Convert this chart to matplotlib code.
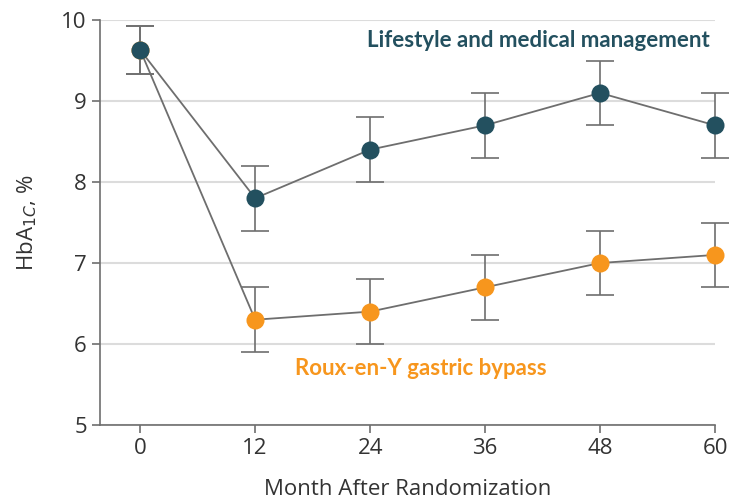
import matplotlib
matplotlib.use('Agg')
import matplotlib.pyplot as plt

# data
months = [0, 12, 24, 36, 48, 60]
lifestyle = [9.63, 7.8, 8.4, 8.7, 9.1, 8.7]
lifestyle_err = [0.3, 0.4, 0.4, 0.4, 0.4, 0.4]
bypass = [9.63, 6.3, 6.4, 6.7, 7.0, 7.1]
bypass_err = [0.3, 0.4, 0.4, 0.4, 0.4, 0.4]

teal = '#23505f'
orange = '#f7961d'
gray = '#6e6e6e'

plt.rcParams['font.family'] = ['Open Sans', 'DejaVu Sans']

fig = plt.figure(figsize=(7.32, 5.01), dpi=100)
ax = fig.add_axes([0.1366, 0.1517, 0.8402, 0.8083])

# bypass first so the shared baseline point shows teal
for vals, err, col in [(bypass, bypass_err, orange), (lifestyle, lifestyle_err, teal)]:
    ax.errorbar(months, vals, yerr=err, fmt='none', ecolor=gray, elinewidth=1.2,
                capsize=10, capthick=1.2, zorder=2, clip_on=False)
    ax.plot(months, vals, color=gray, lw=1.3, zorder=3, clip_on=False)
    ax.plot(months, vals, 'o', color=col, ms=13, mec='none', zorder=4, clip_on=False)

ax.set_xlim(-4.2, 60)
ax.set_ylim(5, 10)
ax.set_xticks(months)
ax.set_yticks([5, 6, 7, 8, 9, 10])
ax.yaxis.grid(True, color='#dcdcdc', lw=1.5)
ax.set_axisbelow(True)
for s in ['top', 'right']:
    ax.spines[s].set_visible(False)
for s in ['left', 'bottom']:
    ax.spines[s].set_color(gray)
    ax.spines[s].set_linewidth(1.2)
ax.tick_params(colors=gray, length=6, width=1.2, labelsize=16, labelcolor='#333333')

ax.set_xlabel('Month After Randomization', fontsize=16, color='#333333', labelpad=14)
ax.set_ylabel('HbA$_{1C}$, %', fontsize=16, color='#333333', labelpad=16)

ax.text(41.6, 9.75, 'Lifestyle and medical management', color=teal, fontsize=16,
        fontweight='bold', ha='center', va='center', family=['Lato', 'DejaVu Sans'])
ax.text(29.3, 5.70, 'Roux-en-Y gastric bypass', color=orange, fontsize=16,
        fontweight='bold', ha='center', va='center', family=['Lato', 'DejaVu Sans'])

fig.savefig('out.png', dpi=100)
